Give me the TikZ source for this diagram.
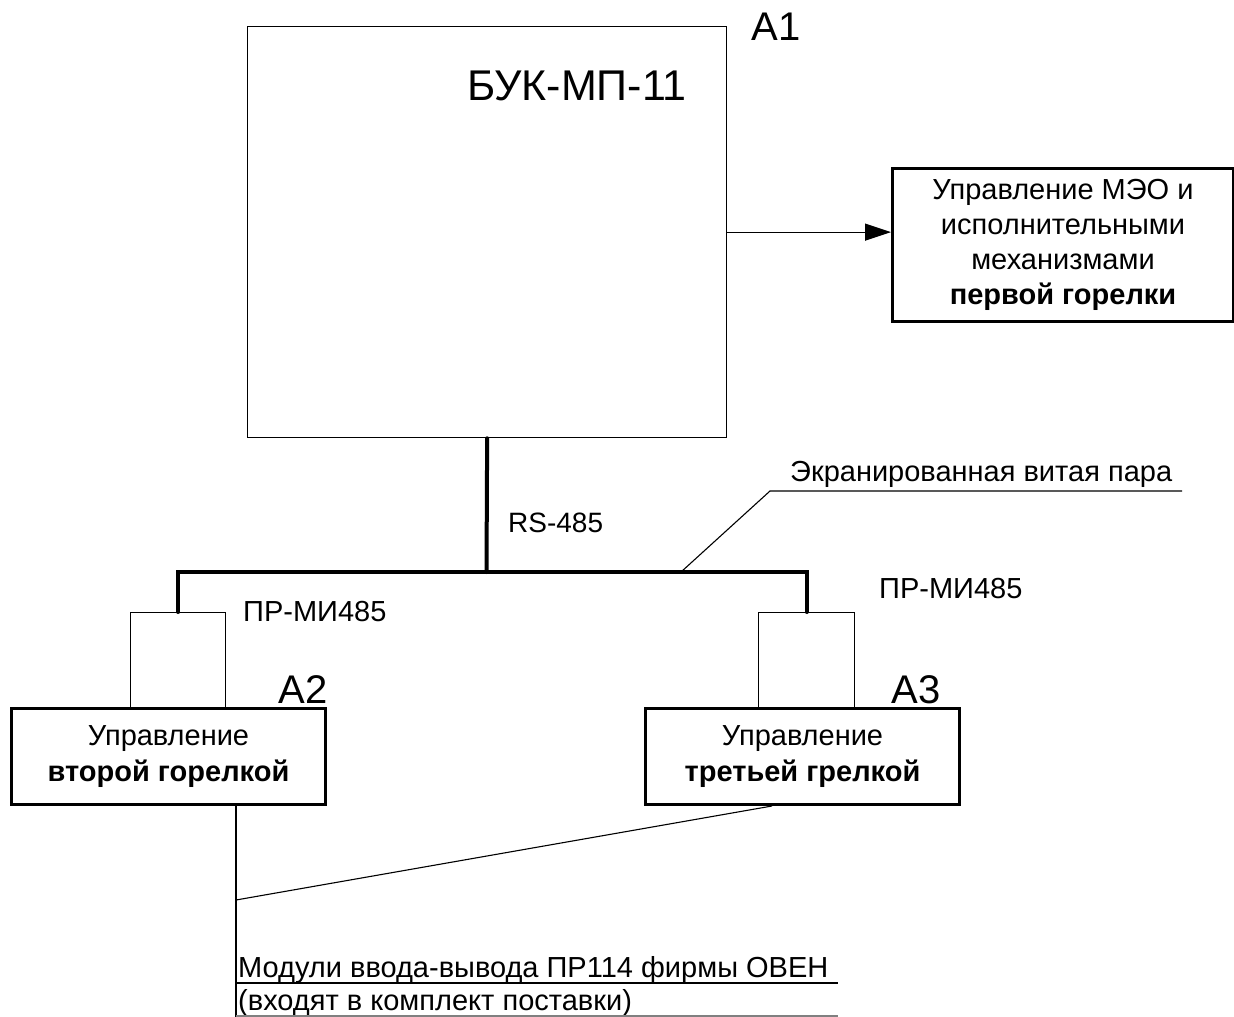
\documentclass[tikz,border=0pt]{standalone}
\usepackage{fontspec}
\setmainfont{Liberation Sans}
\usetikzlibrary{arrows.meta}
\begin{document}
\begin{tikzpicture}[x=1pt,y=-1pt,
  thin line/.style={line width=1.3pt},
  fine line/.style={line width=1.1pt},
  thickbox/.style={draw,line width=3pt,inner sep=0pt,align=center,font=\fontsize{29}{36}\selectfont},
  thinbox/.style={draw,line width=1.3pt,inner sep=0pt},
  bus/.style={line width=4pt,line cap=round,line join=miter},
  lbl/.style={inner sep=0pt,anchor=base west,font=\fontsize{29}{34}\selectfont},
  big/.style={inner sep=0pt,anchor=base,font=\fontsize{40}{48}\selectfont}]
\useasboundingbox (0,0) rectangle (1234,1017);
% main unit
\node[thinbox,anchor=north west,minimum width=479pt,minimum height=411pt] (buk) at (247,26) {};
\node[big,font=\fontsize{43}{50}\selectfont] (bukt) at (577,100) {БУК-МП-11};
\node[big] (a1) at (776,40) {A1};
% first burner
\node[thickbox,anchor=north west,minimum width=341pt,minimum height=153pt,font=\fontsize{29}{35}\selectfont] (b1) at (891,167)
  {Управление МЭО и\\исполнительными\\механизмами\\\textbf{первой горелки}};
\draw[thin line,-{Triangle[length=26pt,width=17pt]}] (buk.east) -- (buk.east -| b1.west);
% interface modules
\node[thinbox,anchor=north west,minimum width=95pt,minimum height=95pt] (m2) at (130,612) {};
\node[thinbox,anchor=north west,minimum width=96pt,minimum height=95pt] (m3) at (758,612) {};
\node[thickbox,anchor=north west,minimum width=314pt,minimum height=96pt] (a2) at (10,707)
  {Управление\\\textbf{второй горелкой}};
\node[thickbox,anchor=north west,minimum width=314pt,minimum height=96pt] (a3) at (644,707)
  {Управление\\\textbf{третьей грелкой}};
\node[big] (a2l) at (303,703) {A2};
\node[big] (a3l) at (916,703) {A3};
% bus
\coordinate (bj) at (486.5,572);
\draw[bus] (buk.south) -- (bj);
\draw[bus] (m2.north) |- (bj) -| (m3.north);
\node[lbl,font=\fontsize{28}{34}\selectfont] (rs) at (508,532) {RS-485};
\node[lbl] (pm2) at (243,621) {ПР-МИ485};
\node[lbl] (pm3) at (879,598) {ПР-МИ485};
% leader for twisted pair
\coordinate (ld) at (681,572);
\coordinate (lk) at (770,491);
\coordinate (le) at (1182,491);
\draw[fine line] (ld) -- (lk) -- (le);
\node[lbl] (tp) at (790,481) {Экранированная витая пара};
% modules leader
\coordinate (vb) at (236,1017);
\coordinate (dj) at (236,900);
\coordinate (d3) at (772,803);
\draw[fine line] (a2.south -| vb) -- (vb);
\draw[fine line] (dj) -- (a3.south -| d3);
\node[lbl] (mod1) at (238,977) {Модули ввода-вывода ПР114 фирмы ОВЕН};
\node[lbl] (mod2) at (238,1010) {(входят в комплект поставки)};
\coordinate (u1) at (838,983);
\coordinate (u2) at (838,1016);
\draw[fine line] (u1 -| vb) -- (u1);
\draw[fine line,gray] (u2 -| vb) -- (u2);
\end{tikzpicture}
\end{document}
